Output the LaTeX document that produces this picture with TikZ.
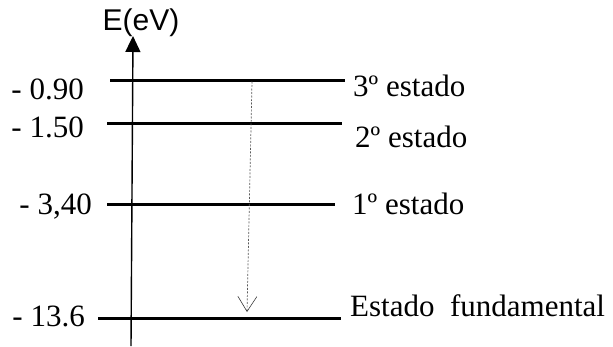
\documentclass[tikz,border=0pt]{standalone}
\usepackage{fontspec}
\setmainfont{Liberation Serif}
\newfontfamily\axisfont{Liberation Sans}
\usetikzlibrary{arrows.meta}
\tikzset{
  level/.style={line width=3pt},
  lbl/.style={inner sep=0pt, font=\fontsize{31}{36}\selectfont},
  leftlbl/.style={lbl, anchor=base east},
  rightlbl/.style={lbl, anchor=base west},
  axisline/.style={line width=1.4pt, -{Triangle[width=15pt,length=16pt]}},
  trans/.style={black!65, line width=0.7pt, dash pattern=on 2pt off 1.5pt,
    -{Straight Barb[length=15pt,width=19pt,line width=0.6pt,black!80]}}
}
\begin{document}
\begin{tikzpicture}[x=1pt,y=-1pt]
\useasboundingbox (0,0) rectangle (613,346);
% axis
\coordinate (ax0) at (131,346);
\coordinate (ax1) at (133,36);
\draw[axisline] (ax0) -- (ax1);
\node[inner sep=0pt, anchor=base, font=\axisfont\fontsize{30}{34}\selectfont] (elabel) at (141,30) {E(eV)};
% levels
\coordinate (l1a) at (110,80);  \coordinate (l1b) at (345,80);
\coordinate (l2a) at (107,123); \coordinate (l2b) at (342,123);
\coordinate (l3a) at (107,204); \coordinate (l3b) at (335,204);
\coordinate (l4a) at (98,318);  \coordinate (l4b) at (341,318);
\draw[level] (l1a) -- (l1b);
\draw[level] (l2a) -- (l2b);
\draw[level] (l3a) -- (l3b);
\draw[level] (l4a) -- (l4b);
% left labels
\node[leftlbl] (v1) at (84,99) {- 0.90};
\node[leftlbl] (v2) at (84,137) {- 1.50};
\node[leftlbl] (v3) at (92,214) {- 3,40};
\node[leftlbl] (v4) at (85,326) {- 13.6};
% right labels
\node[rightlbl] (s3) at (353,96) {3º estado};
\node[rightlbl] (s2) at (355,147) {2º estado};
\node[rightlbl] (s1) at (352,214) {1º estado};
\node[rightlbl] (s0) at (350,316) {Estado\ \ fundamental};
% transition
\coordinate (t0) at (252,81.5);
\coordinate (t1) at (247,312);
\draw[trans] (t0) -- (t1);
\end{tikzpicture}
\end{document}
